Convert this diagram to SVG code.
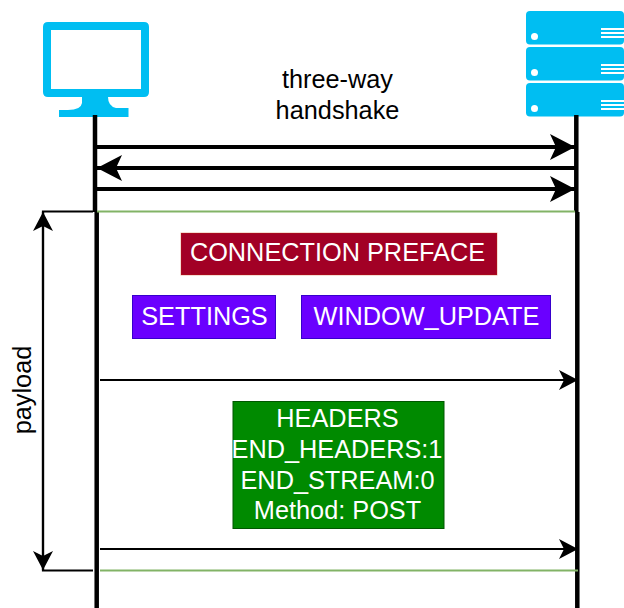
<svg xmlns="http://www.w3.org/2000/svg" width="624" height="608" viewBox="0 0 624 608">
<defs>
<marker id="big" markerUnits="userSpaceOnUse" markerWidth="26" markerHeight="28" refX="25" refY="13.500" orient="auto"><path d="M0 0.500 L25 13.500 L0 26.500 L6 13.500 Z" fill="#000"/></marker>
<marker id="small" markerUnits="userSpaceOnUse" markerWidth="20" markerHeight="22" refX="19" refY="10.500" orient="auto"><path d="M0 0.500 L19 10.500 L0 20.500 L5 10.500 Z" fill="#000"/></marker>
</defs>
<style>
.t{font-family:"Liberation Sans",Arial,sans-serif;font-size:25.300px;text-anchor:middle}
.w{fill:#fff}.k{fill:#000}
.c{fill:#00bef2}
.life{stroke:#000;stroke-width:4.500;fill:none}
.thick{stroke:#000;stroke-width:3.800;fill:none}
.thin{stroke:#000;stroke-width:2.200;fill:none}
.green{stroke:#82b366;stroke-width:2;fill:none}
</style>
<g id="client">
<path class="c" fill-rule="evenodd" d="M48 22H144Q149 22 149 27V92Q149 97 144 97H108Q108 106 116 108H128.500V117H59V110H68Q81 110 82 103V97H48Q43 97 43 92V27Q43 22 48 22ZM51 30V89H141V30Z"/>
</g>
<g id="server">
<g id="server-1"><rect class="c" x="526" y="11" width="98" height="33.500" rx="4"/><circle class="w" cx="534.500" cy="36.500" r="3.500"/><path d="M601 29H624M601 33H624M601 37H624" stroke="#fff" stroke-width="1.800"/></g>
<g id="server-2"><rect class="c" x="526" y="47" width="98" height="33.500" rx="4"/><circle class="w" cx="534.500" cy="72.500" r="3.500"/><path d="M601 65H624M601 69H624M601 73H624" stroke="#fff" stroke-width="1.800"/></g>
<g id="server-3"><rect class="c" x="526" y="83" width="98" height="33.500" rx="4"/><circle class="w" cx="534.500" cy="108.500" r="3.500"/><path d="M601 101H624M601 105H624M601 109H624" stroke="#fff" stroke-width="1.800"/></g>
</g>
<g id="connectors">
<path class="life" d="M95 115V212"/>
<path class="life" d="M96.700 212V608"/>
<path class="life" d="M576.300 115V212"/>
<path class="life" d="M577.300 212V608"/>
<path class="thick" d="M97 147H575" marker-end="url(#big)"/>
<path class="thick" d="M575 168H97" marker-end="url(#big)"/>
<path class="thick" d="M97 189H575" marker-end="url(#big)"/>
<path class="green" d="M97 211.500H575"/>
<path class="green" d="M100 570.500H578"/>
<path class="thin" d="M93 211.500H43V570.500H93"/>
<path class="thin" d="M43 300V212" marker-end="url(#small)"/>
<path class="thin" d="M43 400V570" marker-end="url(#small)"/>
<path class="thin" d="M100 380H578" marker-end="url(#small)"/>
<path class="thin" d="M100 549H578" marker-end="url(#small)"/>
</g>
<g id="label-handshake"><text class="t k" x="337.500" y="88">three-way</text><text class="t k" x="337.500" y="119">handshake</text></g>
<g id="label-payload"><text class="t k" transform="translate(31 390) rotate(-90)">payload</text></g>
<g id="connection-preface"><rect x="181" y="233" width="316" height="42" fill="#a20025" stroke="#c73500" stroke-opacity=".35" stroke-width="1"/><text class="t w" x="337.500" y="261">CONNECTION PREFACE</text></g>
<g id="settings"><rect x="132.500" y="295.500" width="143" height="43" fill="#6a00ff" stroke="#3700cc" stroke-width="1"/><text class="t w" x="204.500" y="325">SETTINGS</text></g>
<g id="window-update"><rect x="301.500" y="295.500" width="249" height="43" fill="#6a00ff" stroke="#3700cc" stroke-width="1"/><text class="t w" x="426.500" y="325">WINDOW_UPDATE</text></g>
<g id="headers"><rect x="233" y="401.500" width="211" height="127" fill="#008a00" stroke="#005700" stroke-width="1"/><text class="t w" x="337.500" y="427">HEADERS</text><text class="t w" x="337" y="458">END_HEADERS:1</text><text class="t w" x="337.500" y="489">END_STREAM:0</text><text class="t w" x="337.500" y="519">Method: POST</text></g>
</svg>
